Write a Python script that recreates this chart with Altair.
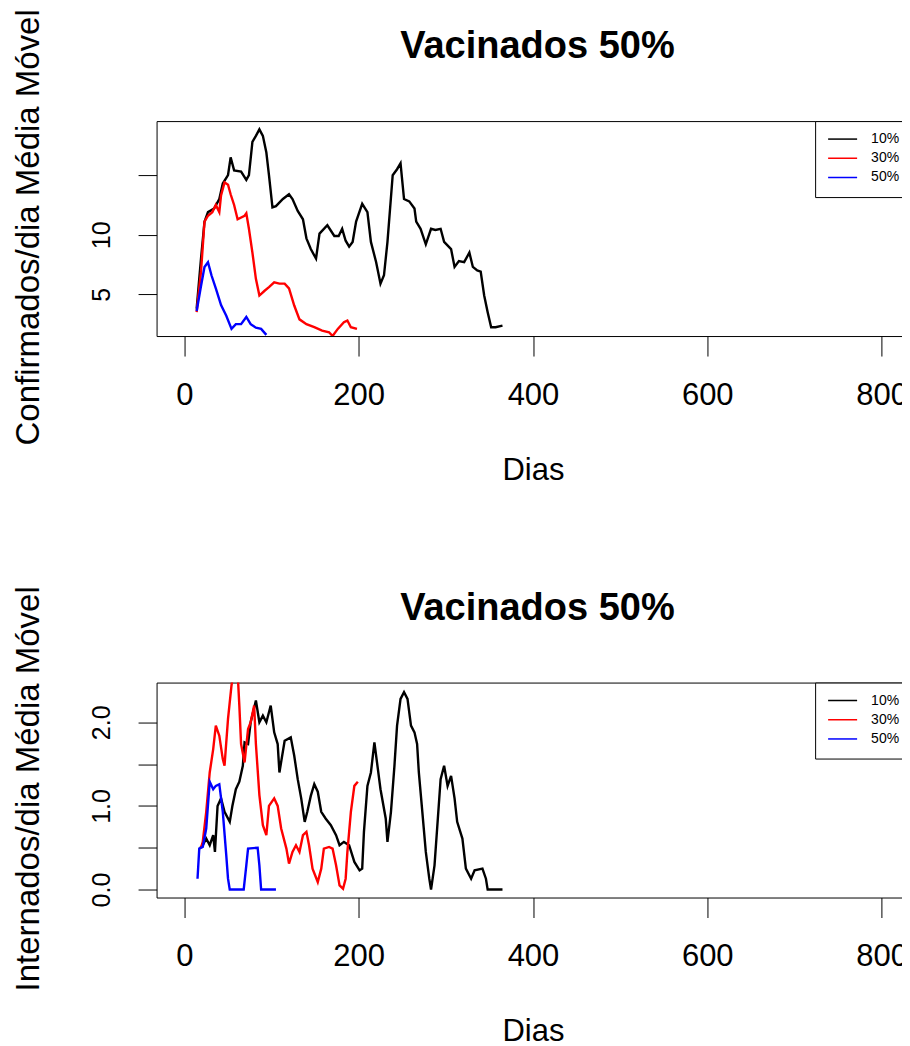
import altair as alt
import pandas as pd

series = ["10%", "30%", "50%"]
colors = ["#000000", "#ff0000", "#0000ff"]
x_ticks = [0, 200, 400, 600, 800]
panel_title = "Vacinados 50%"

# ---- Confirmados/dia (top panel) ----
conf10_dia = [14, 19, 23, 27, 34, 40, 44, 50, 53, 57, 65, 71, 74, 78, 82, 86, 90, 94, 97, 101, 105, 113, 120,
              124, 130, 136, 140, 145, 151, 155, 164, 172, 177, 181, 185, 189, 193, 197, 204, 210, 214, 220,
              225, 229, 233, 239, 244, 248, 252, 258, 264, 266, 271, 277, 283, 288, 294, 298, 306, 310, 315,
              321, 327, 331, 336, 340, 344, 348, 352, 357, 365]
conf10_val = [3.8, 8.0, 11.1, 11.9, 12.2, 13.0, 14.3, 15.0, 16.5, 15.4, 15.3, 14.6, 15.0, 17.8, 18.3, 18.85,
              18.3, 16.9, 15.0, 12.3, 12.4, 13.0, 13.4, 13.0, 12.0, 11.3, 9.7, 8.8, 8.0, 10.1, 10.8, 9.9, 9.9,
              10.5, 9.5, 9.0, 9.4, 11.1, 12.6, 11.9, 9.4, 7.7, 5.9, 6.6, 9.4, 15.0, 15.5, 16.0, 13.0, 12.8,
              12.2, 11.1, 10.5, 9.2, 10.5, 10.4, 10.5, 9.4, 8.8, 7.3, 7.8, 7.7, 8.5, 7.3, 7.0, 6.9, 4.9, 3.5,
              2.24, 2.24, 2.38]
conf30_dia = [14, 19, 23, 27, 32, 36, 40, 42, 46, 50, 53, 57, 61, 69, 71, 74, 78, 82, 86, 92, 97, 103, 109,
              115, 120, 126, 132, 140, 149, 158, 166, 170, 176, 183, 187, 191, 198]
conf30_val = [3.5, 6.9, 11.1, 11.6, 11.9, 12.5, 11.9, 13.3, 14.4, 14.2, 13.4, 12.5, 11.3, 11.6, 11.8, 10.5,
              8.5, 6.3, 4.9, 5.3, 5.6, 6.0, 5.9, 5.9, 5.5, 4.06, 2.9, 2.5, 2.24, 1.96, 1.82, 1.5, 2.1, 2.66,
              2.8, 2.24, 2.1]
conf50_dia = [14, 19, 23, 27, 31, 36, 42, 48, 54, 59, 65, 71, 76, 82, 88, 94]
conf50_val = [3.6, 5.7, 7.3, 7.7, 6.6, 5.5, 4.1, 3.2, 2.1, 2.5, 2.5, 3.1, 2.5, 2.2, 2.1, 1.6]

# ---- Internados/dia (bottom panel) ----
int10_dia = [18, 21, 25, 29, 33, 35, 38, 42, 46, 52, 55, 59, 63, 67, 69, 73, 76, 82, 86, 90, 94, 99, 103,
             107, 109, 115, 122, 126, 130, 134, 138, 141, 145, 149, 153, 157, 162, 168, 174, 178, 183, 189,
             195, 201, 204, 206, 210, 214, 218, 222, 225, 231, 233, 237, 241, 244, 248, 252, 256, 260, 264,
             267, 269, 273, 277, 281, 283, 287, 290, 294, 298, 302, 306, 310, 313, 319, 323, 329, 333, 342,
             346, 348, 365]
int10_val = [0.5, 0.53, 0.61, 0.53, 0.65, 0.45, 1.0, 1.09, 0.93, 0.81, 1.0, 1.2, 1.29, 1.48, 1.76, 1.74,
             2.0, 2.26, 2.0, 2.08, 2.0, 2.2, 1.88, 1.74, 1.4, 1.78, 1.82, 1.6, 1.32, 1.09, 0.81, 0.93, 1.12,
             1.26, 1.17, 0.93, 0.85, 0.77, 0.65, 0.53, 0.57, 0.53, 0.33, 0.23, 0.25, 0.69, 1.24, 1.4, 1.76,
             1.44, 1.2, 0.85, 0.57, 0.93, 1.48, 1.96, 2.28, 2.36, 2.28, 1.96, 1.88, 1.74, 1.4, 0.93, 0.45,
             0.13, 0.0, 0.29, 0.73, 1.32, 1.48, 1.24, 1.36, 1.09, 0.81, 0.61, 0.25, 0.13, 0.23, 0.25, 0.13,
             0.0, 0.0]
int30_dia = [19, 21, 25, 29, 33, 36, 40, 44, 46, 50, 54, 57, 61, 63, 65, 69, 73, 76, 80, 82, 86, 90, 94, 97,
             103, 107, 111, 117, 120, 124, 128, 132, 136, 140, 143, 147, 153, 157, 160, 166, 170, 174, 178,
             182, 185, 187, 191, 195, 199]
int30_val = [0.5, 0.57, 0.93, 1.4, 1.68, 1.96, 1.84, 1.56, 1.48, 2.04, 2.44, 2.65, 2.6, 2.2, 1.74, 1.52,
             1.92, 2.0, 2.2, 1.74, 1.13, 0.77, 0.65, 1.0, 1.09, 1.0, 0.73, 0.49, 0.31, 0.45, 0.53, 0.45, 0.65,
             0.69, 0.53, 0.25, 0.09, 0.25, 0.49, 0.51, 0.49, 0.29, 0.05, 0.01, 0.13, 0.45, 0.93, 1.24, 1.29]
int50_dia = [15, 17, 21, 25, 29, 33, 36, 40, 44, 48, 50, 52, 68, 71, 73, 84, 86, 88, 105]
int50_val = [0.13, 0.49, 0.51, 0.73, 1.29, 1.2, 1.24, 1.26, 0.93, 0.41, 0.13, 0.0, 0.0, 0.29, 0.49, 0.5,
             0.29, 0.0, 0.0]

FONT = "Liberation Sans"
PLOT_W = 753
PLOT_H = 215


def build_frame(dias_list, vals_list):
    rows = []
    for s, d, v in zip(series, dias_list, vals_list):
        for a, b in zip(d, v):
            rows.append({"dia": a, "valor": b, "serie": s})
    return pd.DataFrame(rows)


def panel(df, ytitle, ydomain, yvalues, ylabel_expr, yformat):
    x_scale = alt.Scale(domain=[-32, 832], nice=False, zero=False)
    y_enc = alt.Y("valor:Q", scale=alt.Scale(domain=ydomain, nice=False, zero=False),
                  axis=alt.Axis(values=yvalues, format=yformat, labelExpr=ylabel_expr,
                                title=ytitle, grid=False, domain=False,
                                tickSize=18.5, tickColor="black", tickWidth=1,
                                labelFontSize=25, labelFont=FONT, labelColor="black",
                                labelAngle=270, labelAlign="center", labelBaseline="alphabetic",
                                labelPadding=28.5, labelFlush=False, labelOverlap=False,
                                titleFontSize=33, titleFont=FONT, titleFontWeight="normal",
                                titleColor="black", titleAngle=270, titleAlign="center",
                                titleBaseline="alphabetic", titleX=-118, titleY=PLOT_H / 2 - 1.7))
    lines = alt.Chart(df).mark_line(strokeWidth=2.4, clip=True).encode(
        x=alt.X("dia:Q", scale=x_scale,
                axis=alt.Axis(values=x_ticks, title="Dias", grid=False, domain=False,
                              tickSize=20, tickColor="black", tickWidth=1,
                              labelFontSize=31, labelFont=FONT, labelColor="black",
                              labelPadding=48, labelBaseline="alphabetic", labelFlush=False,
                              labelOverlap=False,
                              titleFontSize=31, titleFont=FONT, titleFontWeight="normal",
                              titleColor="black", titleBaseline="alphabetic", titleAlign="center",
                              titleX=PLOT_W / 2, titleY=143.3)),
        y=y_enc,
        color=alt.Color("serie:N",
                        scale=alt.Scale(domain=series, range=colors),
                        legend=alt.Legend(title=None, orient="none", legendX=658.7, legendY=0,
                                          symbolType="stroke", symbolStrokeWidth=1.5, symbolSize=841,
                                          labelFontSize=14, labelFont=FONT, labelColor="black",
                                          labelExpr="datum.label + '      '",
                                          strokeColor="black", fillColor="white", padding=12,
                                          labelOffset=13, rowPadding=5.2, clipHeight=12,
                                          cornerRadius=0)),
    )
    # the panel heading, drawn as the title of a top axis that shows nothing else
    heading = alt.Chart(df).mark_point(opacity=0).encode(
        x=alt.X("dia:Q", scale=x_scale,
                axis=alt.Axis(orient="top", title=panel_title, labels=False, ticks=False,
                              domain=False, grid=False,
                              titleFontSize=38, titleFont=FONT, titleFontWeight="bold",
                              titleColor="black", titleBaseline="alphabetic", titleAlign="center",
                              titleX=PLOT_W / 2 + 4, titleY=-63.4)),
        y=y_enc,
    )
    return alt.layer(lines, heading).resolve_axis(x="independent").properties(
        width=PLOT_W, height=PLOT_H)


top = panel(build_frame([conf10_dia, conf30_dia, conf50_dia], [conf10_val, conf30_val, conf50_val]),
            "Confirmados/dia Média Móvel", [1.5, 19.54], [5, 10, 15],
            "datum.value == 15 ? '' : datum.label", "d")
bottom = panel(build_frame([int10_dia, int30_dia, int50_dia], [int10_val, int30_val, int50_val]),
               "Internados/dia Média Móvel", [-0.095, 2.475], [0, 0.5, 1, 1.5, 2],
               "(datum.value == 0.5 || datum.value == 1.5) ? '' : datum.label", ".1f")

# the page keeps an 8px margin on the right too, so the drawing is cut at x = 902
chart = alt.vconcat(top, bottom, spacing=346.6, bounds="flush").resolve_legend(
    color="independent"
).properties(
    padding={"left": 3.6, "top": 0.0, "right": -11.4, "bottom": 0}
).configure_view(stroke="black", strokeWidth=1)

chart.save("out.html", embed_options={"renderer": "svg", "actions": False})
